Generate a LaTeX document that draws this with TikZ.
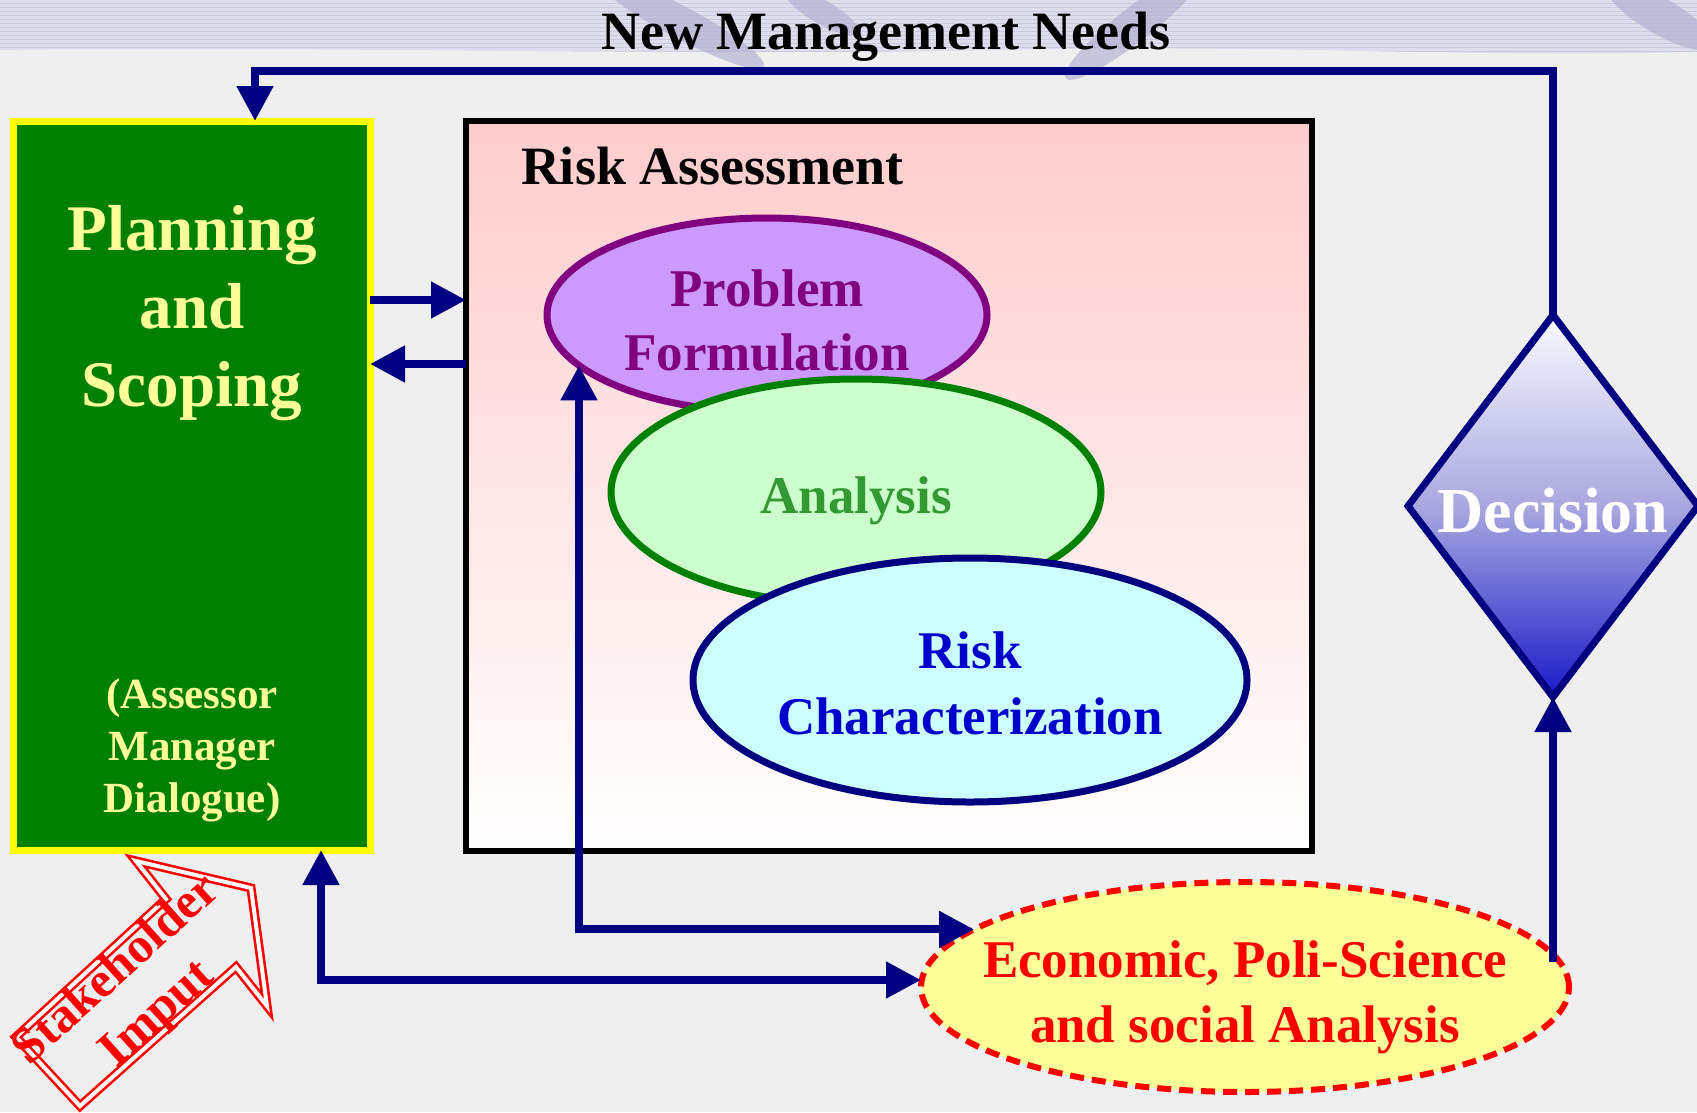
\documentclass[tikz,border=0pt]{standalone}
\usepackage{fontspec}
\setmainfont{Liberation Serif}
\usetikzlibrary{shapes.geometric,arrows.meta}
\definecolor{navy}{HTML}{000080}
\definecolor{bggray}{HTML}{EFEFEF}
\definecolor{bandcol}{HTML}{DDDDEC}
\definecolor{bandline}{HTML}{CACADF}
\definecolor{blobcol}{HTML}{ABABCF}
\definecolor{yellowb}{HTML}{FFFF00}
\definecolor{green0}{HTML}{008000}
\definecolor{ltyellow}{HTML}{FFFF99}
\definecolor{rapink}{HTML}{FFCCCC}
\definecolor{purp}{HTML}{800080}
\definecolor{lilac}{HTML}{CC99FF}
\definecolor{ltgreen}{HTML}{CCFFCC}
\definecolor{anagreen}{HTML}{339933}
\definecolor{ltcyan}{HTML}{CCFFFF}
\definecolor{rcblue}{HTML}{0000CC}
\definecolor{decTop}{HTML}{FAFAFF}
\definecolor{decMid}{HTML}{A8A8E0}
\definecolor{decBot}{HTML}{1A1AC8}
\newcommand{\fsz}[2]{\fontsize{#1}{#2}\selectfont}
\begin{document}
\begin{tikzpicture}[x=1pt,y=-1pt,
  every node/.style={outer sep=0pt,inner sep=0pt},
  link/.style={draw=navy,line width=8pt},
  tipend/.style={-{Triangle[length=35pt,width=35pt]}},
  tipboth/.style={{Triangle[length=35pt,width=35pt]}-{Triangle[length=35pt,width=35pt]}},
  bubble/.style={ellipse,line width=7pt},
  lbl/.style={align=center}
]
\useasboundingbox (0,0) rectangle (1697,1112);
% background
\fill[bggray] (0,0) rectangle (1697,1112);
\begin{scope}
\clip (0,0) -- (1697,0) -- (1697,52) .. controls (1450,58) and (1300,44) .. (1000,50) .. controls (700,56) and (300,46) .. (0,50) -- cycle;
\fill[bandcol] (0,0) rectangle (1697,60);
\foreach \yy in {3,7,...,59} \draw[bandline,line width=0.9pt] (0,\yy) -- (1697,\yy);
\end{scope}
\fill[blobcol,opacity=0.6] (680,22) ellipse [x radius=95, y radius=16, rotate=-28];
\fill[blobcol,opacity=0.6] (822,12) ellipse [x radius=42, y radius=12, rotate=-30];
\fill[blobcol,opacity=0.6] (1135,24) ellipse [x radius=88, y radius=17, rotate=38];
\fill[blobcol,opacity=0.6] (1660,16) ellipse [x radius=62, y radius=18, rotate=-30];

% title
\node[font=\bfseries\fsz{54}{65}, anchor=base] (title) at (886,49) {New Management Needs};

% planning box
\node[draw=yellowb, fill=green0, line width=7pt, minimum width=357pt, minimum height=729pt] (plan) at (191.5,485.5) {};
\node[lbl, text=ltyellow, font=\bfseries\fsz{65}{78}] (plantxt) at (192,313) {Planning\\and\\Scoping};
\node[lbl, text=ltyellow, font=\bfseries\fsz{43}{52}] (dial) at (192,750) {(Assessor\\Manager\\Dialogue)};

% risk assessment box
\node[draw=black, line width=6.5pt, minimum width=846pt, minimum height=730pt, top color=rapink, bottom color=white] (ra) at (889,486) {};
\node[font=\bfseries\fsz{54}{64}, anchor=base west] (ratitle) at (521,184) {Risk Assessment};

\node[bubble, draw=purp, fill=lilac, minimum width=440pt, minimum height=194pt] (prob) at (767,315) {};
\node[lbl, text=purp, font=\bfseries\fsz{53}{64}] (probtxt) at (767,320) {Problem\\Formulation};
\node[bubble, draw=green0, fill=ltgreen, minimum width=490pt, minimum height=226pt] (ana) at (856,492) {};
\node[lbl, text=anagreen, font=\bfseries\fsz{53}{64}] (anatxt) at (856,501) {Analysis};
\node[bubble, draw=navy, fill=ltcyan, minimum width=554pt, minimum height=244pt] (risk) at (970,680) {};
\node[lbl, text=rcblue, font=\bfseries\fsz{53}{66}] (risktxt) at (970,683) {Risk\\Characterization};

% economic ellipse
\node[ellipse, draw=red, dash pattern=on 14pt off 8pt, line width=6pt, fill=ltyellow, minimum width=648pt, minimum height=210pt] (econ) at (1245,987) {};
\node[lbl, text=red, font=\bfseries\fsz{53}{65}] (econtxt) at (1245,997) {Economic, Poli-Science\\and social Analysis};

% decision
\node[diamond, draw=navy, line width=7pt, minimum width=290pt, minimum height=382pt, top color=decTop, bottom color=decBot, middle color=decMid] (dec) at (1553,506) {};
\node[font=\bfseries\fsz{64}{77}, text=white] (dectxt) at (1553,511) {Decision};

% stakeholder arrow
\draw[draw=red, line width=2.6pt, double=white, double distance=4pt, line join=miter]
  (16,1037) -- (166,899) -- (136,861) -- (251,888) -- (267,1006) -- (236,967) -- (80,1106) -- cycle;
\node[lbl, text=red, font=\bfseries\fsz{50}{60}, rotate=42] (stake) at (138,993) {Stakeholder\\Imput};

% connectors
\coordinate (topleft) at (255,71);
\coordinate (yout) at (0,300);
\coordinate (yin) at (0,364);
\coordinate (decfoot) at (1553,962);
\coordinate (lowcorner) at (321,980);
\draw[link,tipend] (dec.north) |- (topleft) -- (topleft |- plan.north);
\draw[link,tipend] (plan.east |- yout) -- (ra.west |- yout);
\draw[link,tipend] (ra.west |- yin) -- (plan.east |- yin);
\draw[link,tipend] (decfoot) -- (dec.south);
\draw[link,tipboth] (lowcorner |- plan.south) -- (lowcorner) -- (econ.west |- lowcorner);
\draw[link,tipboth] (prob.195.6) |- (econ.168.6);
\end{tikzpicture}
\end{document}
